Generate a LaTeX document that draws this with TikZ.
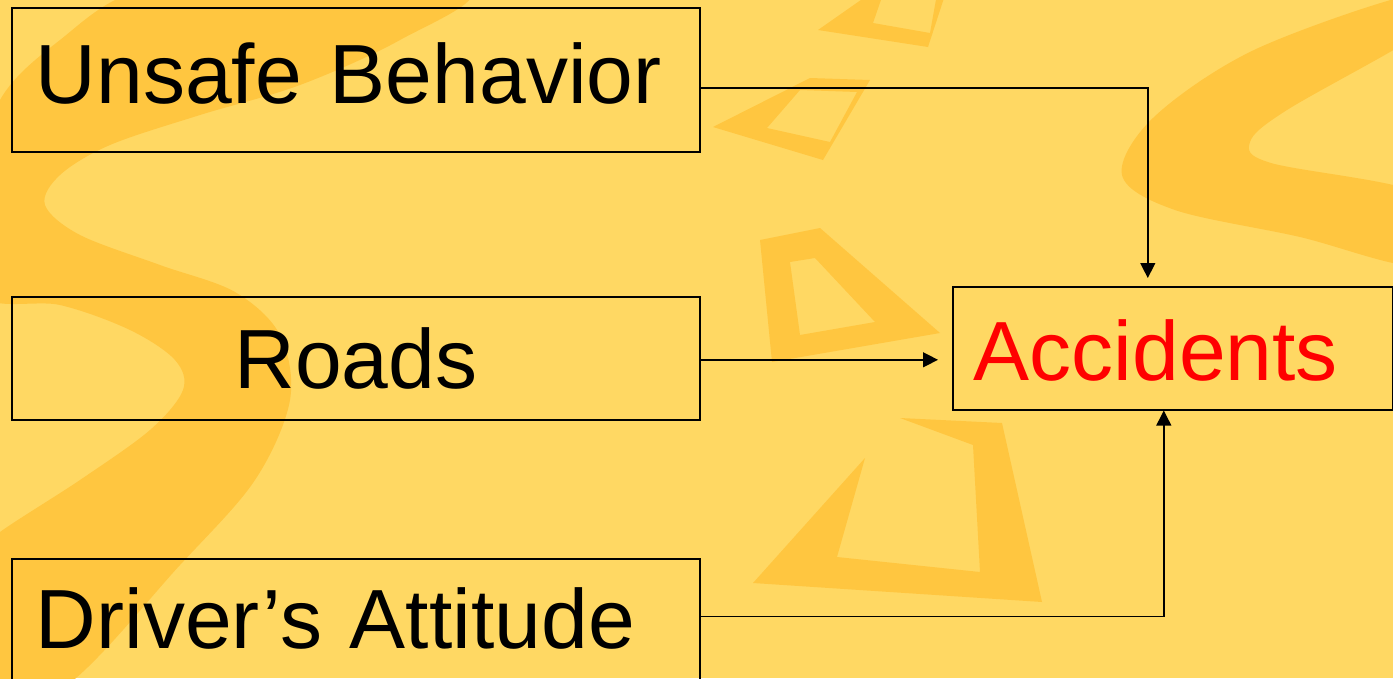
\documentclass[tikz,border=0pt]{standalone}
\usepackage{fontspec}
\setmainfont{Liberation Sans}
\usetikzlibrary{arrows.meta}
\definecolor{bgyellow}{HTML}{FFD863}
\definecolor{decor}{HTML}{FFC640}
\definecolor{accred}{HTML}{FF0000}
\begin{document}
\begin{tikzpicture}[x=1pt,y=-1pt,
  box/.style={draw=black, line width=1.6pt, inner ysep=0pt, anchor=north west,
    font=\fontsize{84}{100}\selectfont},
  conn/.style={draw=black, line width=1.4pt, -{Triangle[length=15pt,width=15pt]}},
  deco/.style={fill=decor, draw=none, even odd rule}]
\clip (0,0) rectangle (1393,678);
\fill[bgyellow] (0,0) rectangle (1393,678);
% background decoration: left S band
\fill[deco] plot[smooth cycle, tension=0.55] coordinates {
  (140,-10) (60,40) (0,100) (-30,200) (-20,295) (60,305) (130,330) (175,360)
  (183,390) (150,430) (80,480) (0,532) (-30,560) (-30,690) (60,690) (180,565)
  (255,480) (290,400) (280,335) (235,292) (160,265) (80,235) (45,205) (60,175)
  (110,145) (200,115) (300,85) (400,40) (470,-10) (300,-30)};
% right band
\fill[deco] plot[smooth cycle, tension=0.55] coordinates {
  (1410,-5) (1254,50) (1154,117) (1122,175) (1175,210) (1300,237) (1410,265)
  (1430,230) (1410,190) (1271,163) (1250,142) (1287,110) (1410,40) (1430,15)};
% quadrilateral outlines
\fill[deco] (818,30) -- (868,-5) -- (945,-5) -- (928,47) -- cycle
  (873,23) -- (930,33) -- (937,-6) -- (883,-6) -- cycle;
\fill[deco] (713,127) -- (810,78) -- (870,80) -- (823,160) -- cycle
  (767,128) -- (800,90) -- (857,92) -- (830,142) -- cycle;
\fill[deco] (760,240) -- (820,228) -- (940,333) -- (772,362) -- cycle
  (790,262) -- (800,335) -- (875,322) -- (815,258) -- cycle;
\fill[deco] (900,418) -- (1002,423) -- (1042,602) -- (753,583) -- (865,458)
  -- (837,557) -- (980,572) -- (973,445) -- cycle;
% nodes
\node[box, inner xsep=24pt, text width=640pt, align=left,
  text height=96pt, text depth=48pt] (ub) at (11,7) {Unsafe Behavior};
\node[box, inner xsep=0pt, text width=688pt, align=center,
  text height=92pt, text depth=31pt] (ro) at (11,296) {Roads};
\node[box, inner xsep=24pt, text width=640pt, align=left,
  text height=90pt, text depth=33pt] (dr) at (11,558) {Driver’s Attitude};
\node[box, inner xsep=21pt, text width=398pt, align=left, text=accred,
  text height=94pt, text depth=29pt] (acc) at (952,286) {Accidents};
% connectors
\draw[conn, shorten >=8pt] ([yshift=-8pt]ub.east) -| ([xshift=-25pt]acc.north);
\draw[conn, shorten >=14pt] ([yshift=-1.5pt]ro.east) -- ([yshift=-1.5pt]ro.east -| acc.west);
\draw[conn] ([yshift=4pt]dr.east) -| ([xshift=-9pt]acc.south);
\end{tikzpicture}
\end{document}
